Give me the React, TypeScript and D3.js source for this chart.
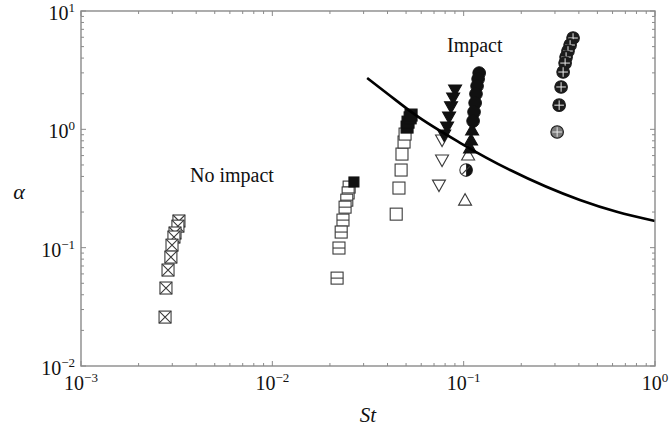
import React from 'react';
import * as d3 from 'd3';

const W = 670;
const H = 429;
const plot = { left: 81, right: 655, top: 11, bottom: 366 };

// [St, alpha]
const crossedSquares: [number, number][] = [
  [0.00325, 0.168], [0.00321, 0.152], [0.0031, 0.133], [0.00306, 0.123],
  [0.00299, 0.105], [0.00295, 0.0833], [0.00285, 0.0647], [0.00278, 0.0456],
  [0.00275, 0.0259],
];
const barSquares: [number, number][] = [
  [0.0252, 0.325], [0.0249, 0.29], [0.0245, 0.252], [0.024, 0.22],
  [0.0234, 0.171], [0.0229, 0.1355], [0.0223, 0.0993], [0.0218, 0.0553],
];
const barSquaresFilled: [number, number][] = [[0.0267, 0.359]];
const openSquares: [number, number][] = [
  [0.0444, 0.192], [0.0459, 0.319], [0.0471, 0.453], [0.0476, 0.618],
  [0.0488, 0.781], [0.0494, 0.912],
];
const filledSquares: [number, number][] = [
  [0.0506, 1.045], [0.0512, 1.15], [0.0525, 1.25], [0.0531, 1.32],
];
const openDown: [number, number][] = [[0.0771, 0.812], [0.0771, 0.55], [0.0743, 0.338]];
const filledDown: [number, number][] = [
  [0.0902, 2.15], [0.0881, 1.84], [0.0859, 1.55], [0.0839, 1.27],
  [0.0819, 1.045], [0.0791, 0.895],
];
const filledCircles: [number, number][] = [
  [0.1205, 2.99], [0.119, 2.66], [0.1175, 2.32], [0.116, 1.99],
  [0.1148, 1.67], [0.1133, 1.4], [0.112, 1.175],
];
const filledUp: [number, number][] = [[0.1107, 0.986], [0.1093, 0.812], [0.108, 0.695]];
const openUp: [number, number][] = [[0.1055, 0.607], [0.1017, 0.252]];
const halfCircles: [number, number][] = [[0.103, 0.453]];
const plusCircles: [number, number][] = [
  [0.373, 5.91], [0.36, 5.16], [0.351, 4.59], [0.343, 4.08], [0.339, 3.63],
  [0.331, 3.05], [0.323, 2.28], [0.3155, 1.6],
];
const plusCirclesLight: [number, number][] = [[0.308, 0.949]];

// boundary curve
const threshold: [number, number][] = [
  [0.0313, 2.72], [0.0403, 1.98], [0.0557, 1.33], [0.0957, 0.77],
  [0.175, 0.453], [0.405, 0.253], [0.631, 0.201], [1, 0.168],
];

const xExps = [-3, -2, -1, 0];
const yExps = [-2, -1, 0, 1];

const ink = '#3a3a3a';
const frame = '#8a8a8a';
const serif = '"Liberation Serif", "Times New Roman", serif';

type Kind =
  | 'sqX' | 'sqH' | 'sqHF' | 'sq' | 'sqF' | 'down' | 'downF' | 'up' | 'upF'
  | 'circF' | 'half' | 'plus' | 'plusLight';

const Marker: React.FC<{ kind: Kind; cx: number; cy: number }> = ({ kind, cx, cy }) => {
  const s = 6;
  const r = 6.3;
  const sw = 1.1;
  const t = `translate(${cx},${cy})`;
  switch (kind) {
    case 'sqX':
      return (
        <g transform={t} stroke={ink} strokeWidth={sw} fill="white">
          <rect x={-s} y={-s} width={2 * s} height={2 * s} />
          <path d={`M${-s},${-s}L${s},${s}M${s},${-s}L${-s},${s}`} fill="none" />
        </g>
      );
    case 'sqH':
      return (
        <g transform={t} stroke={ink} strokeWidth={sw} fill="white">
          <rect x={-s} y={-s} width={2 * s} height={2 * s} />
          <path d={`M${-s},0L${s},0`} />
        </g>
      );
    case 'sqHF':
      return (
        <g transform={t} stroke="#111" strokeWidth={sw} fill="#111">
          <rect x={-s + 1} y={-s + 1} width={2 * s - 2} height={2 * s - 2} />
        </g>
      );
    case 'sq':
      return <rect transform={t} x={-s} y={-s} width={2 * s} height={2 * s} stroke={ink} strokeWidth={sw} fill="white" />;
    case 'sqF':
      return <rect transform={t} x={-s} y={-s} width={2 * s} height={2 * s} stroke="#111" strokeWidth={sw} fill="#111" />;
    case 'down':
    case 'downF':
      return (
        <path transform={t} d="M-6.5,-5L6.5,-5L0,6.5Z" stroke={kind === 'down' ? ink : '#111'} strokeWidth={sw}
          fill={kind === 'down' ? 'white' : '#111'} />
      );
    case 'up':
    case 'upF':
      return (
        <path transform={t} d="M-6.5,5L6.5,5L0,-6.5Z" stroke={kind === 'up' ? ink : '#111'} strokeWidth={sw}
          fill={kind === 'up' ? 'white' : '#111'} />
      );
    case 'circF':
      return <circle transform={t} r={r} fill="#111" stroke="#111" />;
    case 'half':
      return (
        <g transform={t}>
          <circle r={r} fill="white" stroke={ink} strokeWidth={sw} />
          <path d={`M0,${-r}A${r},${r} 0 0 1 0,${r}Z`} fill="#111" />
          <path d={`M${-r * 0.6},${r * 0.6}L${r * 0.6},${-r * 0.6}`} stroke={ink} strokeWidth={sw} />
        </g>
      );
    case 'plus':
    case 'plusLight':
      return (
        <g transform={t}>
          <circle r={r} fill={kind === 'plus' ? '#1c1c1c' : '#7a7a7a'} stroke="#1c1c1c" strokeWidth={sw} />
          <path d={`M${-r + 1.5},0L${r - 1.5},0M0,${-r + 1.5}L0,${r - 1.5}`} stroke="#e8e8e8" strokeWidth={1} />
        </g>
      );
  }
  return null;
};

const series: { kind: Kind; data: [number, number][] }[] = [
  { kind: 'sqX', data: crossedSquares },
  { kind: 'sqH', data: barSquares },
  { kind: 'sqHF', data: barSquaresFilled },
  { kind: 'sq', data: openSquares },
  { kind: 'sqF', data: filledSquares },
  { kind: 'down', data: openDown },
  { kind: 'downF', data: filledDown },
  { kind: 'up', data: openUp },
  { kind: 'half', data: halfCircles },
  { kind: 'upF', data: filledUp },
  { kind: 'circF', data: filledCircles },
  { kind: 'plusLight', data: plusCirclesLight },
  { kind: 'plus', data: plusCircles },
];

const App: React.FC = () => {
  const x = d3.scaleLog().domain([1e-3, 1]).range([plot.left, plot.right]);
  const y = d3.scaleLog().domain([1e-2, 10]).range([plot.bottom, plot.top]);

  const isMajor = (v: number) => Math.abs(Math.log10(v) - Math.round(Math.log10(v))) < 1e-6;
  const xt = x.ticks();
  const yt = y.ticks();

  const line = d3.line<[number, number]>()
    .x(d => x(d[0]))
    .y(d => y(d[1]))
    .curve(d3.curveMonotoneX);

  const minus = (e: number) => (e < 0 ? `\u2212${-e}` : `${e}`);

  return (
    <svg width={W} height={H} style={{ position: 'absolute', left: 0, top: 0, background: 'white' }}
      fontFamily={serif}>
      {/* markers */}
      {series.map((s, i) => (
        <g key={i}>
          {s.data.map((d, j) => (
            <Marker key={j} kind={s.kind} cx={x(d[0])} cy={y(d[1])} />
          ))}
        </g>
      ))}

      {/* boundary */}
      <path d={line(threshold) || ''} fill="none" stroke="#000" strokeWidth={2.6} />

      {/* frame and ticks */}
      <rect x={plot.left} y={plot.top} width={plot.right - plot.left} height={plot.bottom - plot.top}
        fill="none" stroke={frame} strokeWidth={1.4} />
      <g stroke={frame} strokeWidth={1}>
        {xt.map((v, i) => {
          const len = isMajor(v) ? 5 : 3;
          const px = x(v);
          return (
            <g key={i}>
              <line x1={px} x2={px} y1={plot.bottom} y2={plot.bottom - len} />
              <line x1={px} x2={px} y1={plot.top} y2={plot.top + len} />
            </g>
          );
        })}
        {yt.map((v, i) => {
          const len = isMajor(v) ? 5 : 3;
          const py = y(v);
          return (
            <g key={i}>
              <line x1={plot.left} x2={plot.left + len} y1={py} y2={py} />
              <line x1={plot.right} x2={plot.right - len} y1={py} y2={py} />
            </g>
          );
        })}
      </g>

      {/* tick labels */}
      <g fill="#111" fontSize={20}>
        {xExps.map(e => (
          <text key={e} x={x(Math.pow(10, e))} y={plot.bottom + 24} textAnchor="middle">
            10<tspan fontSize={13} dy={-8}>{minus(e)}</tspan>
          </text>
        ))}
        {yExps.map(e => (
          <text key={e} x={plot.left - 6} y={y(Math.pow(10, e)) + 9} textAnchor="end">
            10<tspan fontSize={13} dy={-8}>{minus(e)}</tspan>
          </text>
        ))}
      </g>

      {/* axis titles and annotations */}
      <text x={368} y={422} textAnchor="middle" fontSize={21} fontStyle="italic" fill="#111">St</text>
      <text x={19} y={199} textAnchor="middle" fontSize={22} fontStyle="italic" fill="#111">α</text>
      <text x={447} y={52} fontSize={20} fill="#111">Impact</text>
      <text x={190} y={182} fontSize={20} fill="#111">No impact</text>
    </svg>
  );
};

export default App;
